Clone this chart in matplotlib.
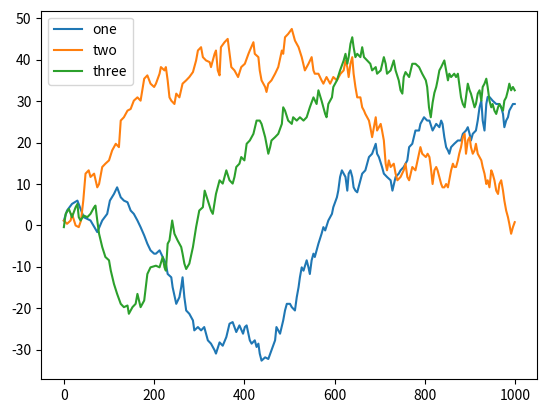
import matplotlib
matplotlib.use("Agg")
import matplotlib.pyplot as plt

plt.rcParams['font.family'] = ['Noto Sans CJK KR', 'DejaVu Sans']
plt.rcParams['axes.unicode_minus'] = False

# values (x = step, y = cumulative value)
one_x = [0, 7, 18, 30, 37, 44, 59, 74, 85, 96, 102, 111, 118, 126, 133, 141, 148, 155, 163, 170,
         178, 185, 192, 200, 204, 212, 219, 226, 230, 238, 241, 249, 256, 260, 263, 267, 271, 278,
         286, 289, 297, 304, 311, 319, 326, 334, 337, 345, 352, 360, 367, 374, 382, 389, 397, 401,
         405, 412, 416, 423, 427, 431, 434, 438, 446, 453, 460, 468, 471, 475, 479, 486, 490, 494,
         501, 505, 512, 516, 520, 523, 527, 531, 538, 542, 545, 549, 553, 556, 560, 564, 571, 575,
         579, 586, 590, 594, 597, 605, 608, 612, 616, 624, 628, 631, 635, 639, 642, 646, 650, 653,
         661, 668, 676, 683, 691, 694, 698, 705, 709, 716, 724, 728, 735, 742, 746, 753, 761, 765,
         772, 779, 787, 790, 798, 805, 810, 817, 825, 832, 836, 839, 843, 847, 851, 854, 858, 865,
         873, 880, 884, 891, 895, 899, 902, 906, 913, 917, 921, 925, 928, 932, 936, 939, 943, 950,
         958, 965, 969, 973, 976, 980, 984, 987, 991, 995, 999]
one_y = [1.2, 3.6, 5.2, 6.0, 4.0, 2.0, 1.2, -1.6, 1.2, 2.8, 6.0, 7.6, 9.2, 6.8, 6.0, 5.6, 3.6, 2.8, 1.2, -0.4,
         -2.4, -4.4, -6.0, -6.8, -6.8, -6.0, -7.6, -9.2, -11.7, -12.5, -14.9, -18.9, -17.3, -14.9, -12.5, -17.3, -20.5, -21.3,
         -22.9, -25.3, -24.5, -25.3, -24.5, -27.7, -28.5, -30.1, -30.9, -28.2, -29.0, -26.9, -23.7, -23.3, -25.7, -24.1, -26.1, -24.5,
         -24.1, -27.7, -28.5, -27.7, -29.3, -28.5, -30.9, -32.6, -31.8, -32.2, -30.1, -27.7, -24.5, -25.3, -26.1, -22.9, -20.5, -18.9,
         -18.9, -19.7, -20.5, -17.3, -14.9, -12.5, -10.1, -10.9, -8.4, -10.1, -11.7, -8.4, -6.8, -7.6, -6.0, -4.4, -2.0, -0.4,
         -1.2, 1.2, 2.0, 2.8, 4.4, 6.8, 8.4, 11.7, 13.3, 11.7, 8.4, 12.5, 13.3, 11.7, 9.2, 8.4, 8.0, 9.2,
         12.5, 13.3, 16.5, 17.3, 19.7, 17.3, 16.5, 14.1, 12.5, 11.7, 10.9, 8.4, 11.7, 12.5, 13.3, 14.1, 15.7, 18.9,
         19.7, 22.9, 22.9, 24.5, 26.1, 25.3, 25.3, 22.9, 24.5, 23.7, 25.3, 24.5, 21.3, 18.9, 18.1, 17.3, 18.9, 19.7,
         20.5, 20.5, 22.1, 22.9, 23.7, 22.1, 20.5, 22.1, 22.9, 25.3, 28.5, 30.1, 25.3, 22.9, 29.3, 31.0, 31.0, 30.1,
         29.3, 29.3, 28.5, 26.9, 23.7, 25.3, 26.1, 27.7, 28.5, 29.3, 29.3]

two_x = [0, 7, 15, 18, 26, 33, 38, 43, 48, 55, 59, 67, 74, 78, 85, 92, 100, 107, 115, 122,
         126, 133, 141, 148, 155, 163, 170, 178, 185, 192, 200, 204, 212, 215, 223, 226, 230, 234,
         238, 245, 249, 256, 263, 271, 278, 286, 293, 297, 304, 308, 315, 323, 326, 334, 337, 341,
         345, 348, 356, 363, 371, 378, 386, 393, 401, 409, 412, 420, 423, 431, 434, 438, 446, 449,
         453, 460, 468, 475, 483, 486, 490, 497, 505, 508, 512, 520, 527, 534, 542, 549, 553, 556,
         564, 571, 575, 582, 590, 597, 605, 613, 620, 624, 628, 631, 635, 639, 642, 646, 650, 657,
         661, 665, 668, 672, 676, 679, 683, 687, 691, 694, 698, 702, 705, 709, 713, 716, 720, 724,
         731, 735, 739, 746, 753, 757, 761, 765, 772, 779, 787, 790, 794, 802, 806, 810, 813, 817,
         821, 825, 828, 832, 836, 839, 843, 847, 851, 854, 858, 862, 865, 869, 873, 876, 880, 884,
         888, 891, 895, 899, 902, 906, 910, 913, 917, 921, 925, 928, 932, 936, 939, 943, 947, 950,
         954, 958, 962, 965, 969, 973, 976, 980, 984, 987, 991, 995, 999]
two_y = [1.2, 0.4, 1.2, 2.8, 0.0, -0.4, 1.2, 6.0, 12.5, 13.3, 11.7, 12.5, 9.2, 10.0, 14.1, 14.9, 15.7, 18.1, 19.7, 18.9,
         25.3, 26.1, 27.7, 28.1, 30.1, 30.9, 30.1, 35.4, 36.2, 34.2, 33.4, 34.2, 36.6, 38.2, 37.4, 38.2, 35.0, 30.9,
         30.1, 29.3, 31.8, 30.9, 34.2, 35.0, 35.8, 37.0, 39.8, 42.2, 43.0, 40.6, 39.8, 39.4, 38.2, 41.4, 42.2, 37.4,
         36.2, 43.0, 44.2, 45.0, 38.2, 37.4, 35.8, 38.2, 39.0, 41.4, 42.2, 44.2, 41.4, 40.6, 37.4, 35.0, 33.4, 32.2,
         34.2, 35.0, 36.6, 38.2, 42.2, 41.4, 45.4, 46.2, 47.4, 46.2, 44.6, 43.0, 40.6, 37.4, 39.0, 40.6, 37.4, 36.6,
         36.6, 35.0, 34.2, 35.8, 34.2, 35.8, 35.0, 36.6, 37.4, 39.8, 38.2, 35.8, 39.0, 40.6, 36.6, 33.4, 30.9, 30.9,
         28.5, 27.7, 26.9, 26.1, 25.3, 23.7, 21.3, 23.7, 26.1, 22.9, 23.7, 24.5, 22.9, 20.5, 14.9, 13.3, 15.7, 14.1,
         14.9, 12.5, 10.9, 11.7, 13.3, 14.9, 11.7, 10.9, 14.1, 13.3, 17.3, 18.9, 17.3, 16.5, 17.3, 16.5, 14.1, 10.0,
         13.3, 14.1, 13.3, 11.7, 10.0, 9.2, 9.2, 10.0, 9.2, 10.9, 13.3, 14.9, 14.1, 14.1, 15.7, 17.3, 18.9, 21.3,
         22.1, 17.3, 20.5, 21.3, 18.9, 17.3, 18.1, 19.7, 17.3, 16.5, 15.7, 14.1, 12.5, 10.0, 10.9, 9.2, 13.3, 12.5,
         10.9, 8.4, 7.6, 10.0, 10.9, 8.4, 6.0, 3.6, 2.0, 0.4, -2.0, -0.4, 0.8]

three_x = [0, 4, 11, 18, 26, 30, 33, 37, 44, 52, 59, 67, 70, 74, 78, 85, 92, 100, 104, 111,
           118, 126, 133, 141, 144, 152, 159, 163, 170, 178, 185, 192, 204, 212, 219, 223, 226, 230,
           234, 240, 245, 252, 260, 263, 267, 271, 278, 286, 293, 300, 308, 312, 319, 326, 330, 337,
           345, 352, 360, 367, 374, 378, 382, 389, 393, 400, 405, 412, 420, 427, 434, 438, 442, 446,
           453, 457, 460, 468, 475, 483, 486, 490, 497, 505, 508, 516, 523, 531, 538, 545, 553, 560,
           564, 571, 575, 579, 582, 586, 594, 597, 605, 612, 620, 624, 628, 631, 635, 639, 642, 646,
           650, 657, 661, 665, 672, 679, 683, 691, 694, 702, 709, 713, 716, 724, 731, 735, 742, 746,
           750, 753, 757, 765, 772, 779, 787, 794, 802, 805, 809, 813, 817, 821, 825, 828, 832, 836,
           843, 847, 851, 854, 858, 865, 869, 873, 876, 880, 884, 888, 891, 895, 899, 902, 906, 910,
           913, 917, 921, 925, 928, 932, 936, 939, 943, 947, 950, 954, 958, 962, 965, 969, 973, 976,
           980, 984, 987, 991, 995, 999]
three_y = [-0.4, 2.8, 4.0, 2.0, 4.4, 5.2, 2.0, 1.2, 2.4, 2.0, 2.8, 4.4, 4.8, 1.2, -2.0, -5.2, -7.6, -8.4, -10.9, -14.1,
           -16.5, -18.9, -19.7, -19.3, -21.3, -19.7, -18.9, -16.5, -19.7, -18.1, -11.7, -10.1, -9.7, -10.1, -7.6, -10.1, -10.9, -4.4,
           -3.6, 1.2, -2.0, -3.6, -5.2, -6.8, -9.2, -10.5, -9.2, -5.2, -0.4, 3.6, 4.4, 8.4, 6.0, 3.6, 2.8, 7.6,
           10.9, 10.1, 13.3, 10.9, 10.1, 11.7, 14.1, 14.9, 16.5, 15.7, 19.7, 20.5, 22.1, 25.3, 25.3, 24.5, 22.9, 21.3,
           17.3, 18.9, 20.5, 21.3, 22.1, 24.5, 28.5, 27.7, 25.3, 24.5, 26.1, 25.3, 26.1, 25.3, 26.1, 28.5, 30.9, 29.3,
           32.6, 30.1, 28.5, 26.9, 26.1, 29.3, 30.9, 33.4, 35.0, 37.4, 39.8, 41.4, 39.0, 40.6, 43.8, 45.4, 43.0, 40.6,
           41.4, 40.6, 43.0, 40.6, 39.8, 39.0, 37.4, 38.2, 36.6, 37.4, 40.6, 39.0, 36.6, 37.4, 39.8, 37.4, 35.0, 32.6,
           31.8, 35.8, 37.0, 35.8, 39.0, 39.0, 38.2, 36.6, 35.0, 33.4, 28.5, 26.1, 29.6, 32.0, 33.4, 35.0, 37.4, 38.2,
           39.8, 37.4, 35.0, 36.6, 35.8, 36.6, 35.8, 36.6, 34.2, 30.9, 29.3, 28.5, 30.9, 34.2, 32.6, 31.8, 30.1, 28.5,
           29.3, 31.8, 32.6, 30.1, 33.4, 34.2, 35.4, 33.4, 30.1, 28.5, 29.3, 27.7, 26.9, 28.5, 29.3, 28.5, 27.7, 30.1,
           30.9, 32.6, 34.2, 32.6, 33.4, 32.6]

fig = plt.figure(figsize=(5.47, 4.13), dpi=100)
ax = fig.add_axes([41.3 / 547, 33.7 / 413, 496 / 547, 368.6 / 413])

ax.plot(one_x, one_y, label="one")
ax.plot(two_x, two_y, label="two")
ax.plot(three_x, three_y, label="three")

ax.set_xlim(-50, 1049)
ax.set_ylim(-37.1, 51.8)
ax.legend(loc="upper left")

fig.savefig("out.png", dpi=100)
